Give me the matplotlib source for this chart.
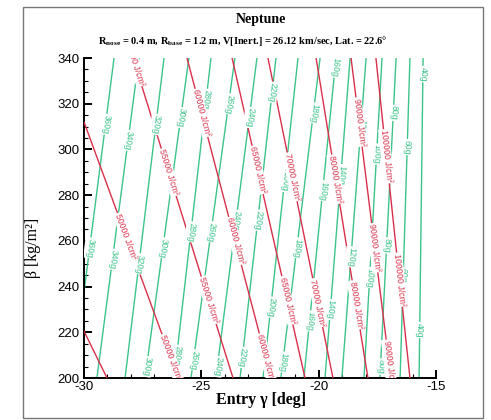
import numpy as np
import matplotlib.pyplot as plt

plt.rcParams['mathtext.fontset'] = 'custom'
plt.rcParams['mathtext.rm'] = 'Liberation Serif:bold'
plt.rcParams['mathtext.bf'] = 'Liberation Serif:bold'
plt.rcParams['axes.unicode_minus'] = False

# g-load contours (value, gamma where they cross beta=340 and beta=200)
g_levels = [360, 340, 320, 300, 280, 260, 240, 220, 200, 180, 160, 140, 120, 100, 80, 60, 40]
g_gamma_top = [-28.72, -27.66, -26.59, -25.53, -24.59, -23.57, -22.63, -21.82, -20.88,
               -19.94, -19.26, -18.66, -17.98, -17.30, -16.70, -16.11, -15.55]
g_gamma_bot = [-30.47, -29.45, -28.25, -27.40, -26.16, -25.44, -24.38, -23.35, -22.37,
               -21.61, -20.63, -19.73, -19.01, -18.07, -17.39, -16.53, -15.72]
g_label_beta = [[311, 257], [304, 252], [311, 250], [314, 257, 205], [322, 264, 210],
                [320, 264, 208], [314, 269, 205], [325, 269, 209], [286, 231],
                [316, 257, 207], [336, 282, 225], [289, 230], [309, 253], [298, 244],
                [316, 258, 205], [301, 245], [333, 221]]

# heat load contours [J/cm^2]
q_levels = [45000, 50000, 55000, 60000, 65000, 70000, 80000, 90000, 100000]
q_gamma_top = [-30.0, -30.0, -27.91, -25.61, -23.69, -22.16, -20.11, -18.62, -17.56]
q_beta_top = [220.5, 312, 340, 340, 340, 340, 340, 340, 340]
q_gamma_bot = [-29.02, -25.99, -23.65, -22.03, -20.58, -19.39, -17.90, -16.92, -16.11]
q_label_beta = [[], [262, 209], [338, 290, 234], [316, 260, 209], [291, 234],
                [288, 233], [287, 232], [312, 257, 206], [297, 243]]

green = '#3cc48a'
red = '#d9304a'

fig = plt.figure(figsize=(4.91, 4.20), dpi=100)
ax = fig.add_axes([84/491, 42/420, 352/491, 320/420])
ax.set_xlim(-30, -15)
ax.set_ylim(200, 340)


def put_labels(g0, b0, g1, b1, betas, text, color):
    p0 = ax.transData.transform((g0, b0))
    p1 = ax.transData.transform((g1, b1))
    ang = np.degrees(np.arctan2(p1[1] - p0[1], p1[0] - p0[0]))
    for b in betas:
        g = g0 + (g1 - g0) * (b - b0) / (b1 - b0)
        ax.text(g, b, text, rotation=ang, rotation_mode='anchor', ha='center',
                va='center', fontsize=6.2, color=color, family='Liberation Sans',
                clip_on=True, zorder=4,
                bbox=dict(facecolor='white', edgecolor='none', pad=0.6))


for lev, gt, gb, lb in zip(g_levels, g_gamma_top, g_gamma_bot, g_label_beta):
    ax.plot([gt, gb], [340, 200], color=green, lw=1.0, zorder=2)
    put_labels(gt, 340, gb, 200, lb, f'{lev}g', green)

for lev, gt, bt, gb, lb in zip(q_levels, q_gamma_top, q_beta_top, q_gamma_bot, q_label_beta):
    ax.plot([gt, gb], [bt, 200], color=red, lw=1.0, zorder=3)
    put_labels(gt, bt, gb, 200, lb, f'{lev} J/cm²', red)

for s in ['top', 'right']:
    ax.spines[s].set_visible(False)
for s in ['left', 'bottom']:
    ax.spines[s].set_linewidth(1.4)

ax.set_xticks(np.arange(-30, -14, 5))
ax.set_xticks(np.arange(-30, -14, 1), minor=True)
ax.set_yticks(np.arange(200, 341, 20))
ax.set_yticks(np.arange(200, 341, 5), minor=True)
ax.tick_params(direction='in', which='major', length=6, width=1.4, labelsize=9.5)
ax.tick_params(direction='in', which='minor', length=3, width=0.8)
ax.tick_params(axis='x', which='major', pad=2)
for t in ax.get_xticklabels() + ax.get_yticklabels():
    t.set_family('Liberation Sans')

fig.text(261/491, 1 - 20/420, 'Neptune', ha='center', va='center',
         family='Liberation Serif', weight='bold', fontsize=10)
fig.text(243/491, 1 - 41/420,
         r'R$_{\mathbf{nose}}$ = 0.4 m, R$_{\mathbf{base}}$ = 1.2 m, V[Inert.] = 26.12 km/sec, Lat. = 22.6°',
         ha='center', va='center', family='Liberation Serif', weight='bold', fontsize=7.5)
fig.text(261/491, 1 - 400/420, 'Entry γ [deg]', ha='center', va='center',
         family='Liberation Serif', weight='bold', fontsize=11.5)
fig.text(33/491, 1 - 248/420, 'β [kg/m²]', ha='center', va='center', rotation=90,
         family='Liberation Serif', fontsize=11.5)

fig.add_artist(plt.Rectangle((23/491, 2/420), 460/491, 411/420, transform=fig.transFigure,
                             fill=False, ec='#777777', lw=1))

fig.savefig('out.png', dpi=100)
